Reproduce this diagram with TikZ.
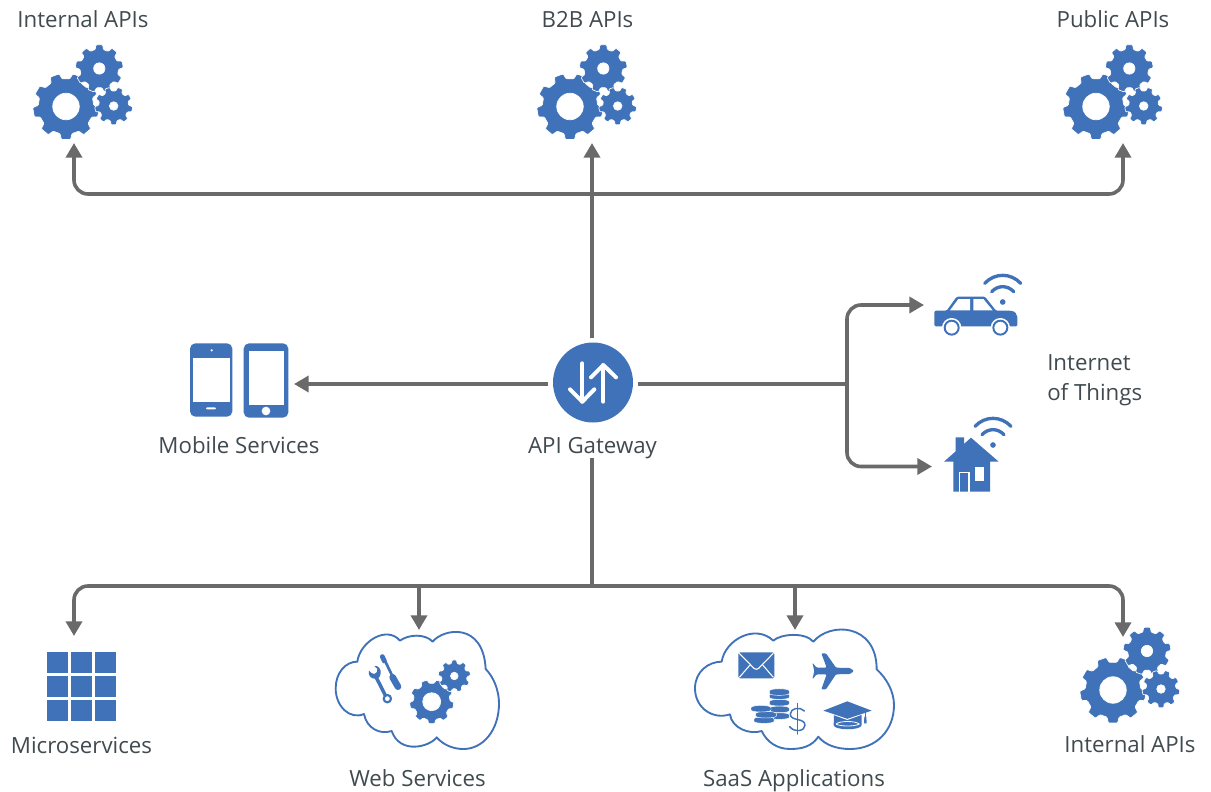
\documentclass[tikz,border=0pt]{standalone}
\usepackage{fontspec}
\setmainfont{Open Sans}
\usetikzlibrary{arrows.meta}
\definecolor{iconblue}{HTML}{3F72B8}
\definecolor{linegray}{HTML}{6A6A6A}
\definecolor{labelgray}{HTML}{404A4F}
\tikzset{
  conn/.style={draw=linegray,line width=2.7pt,rounded corners=10.5pt},
  tipped/.style={-{Triangle[length=11pt,width=12pt]}},
  tippedboth/.style={{Triangle[length=11pt,width=12pt]}-{Triangle[length=11pt,width=12pt]}},
  lbl/.style={text=labelgray,font=\fontsize{16.7pt}{22.5pt}\selectfont,inner sep=0pt,text height=12.5pt,text depth=3.5pt},
  lblblock/.style={text=labelgray,font=\fontsize{16.7pt}{22.5pt}\selectfont,inner sep=0pt},
  iconfill/.style={fill=iconblue,draw=none},
  cloudline/.style={draw=iconblue,line width=1.4pt,line join=round,fill=white},
  whiteline/.style={draw=white,line cap=round,line join=round},
  wifi/.style={draw=iconblue,line width=2.5pt,line cap=round},
  zoomscope/.style={x=.25pt,y=-.25pt}
}
\newcommand\gearshape[7]{%
  \pgfmathsetmacro\gp{360/#6}%
  \pgfmathtruncatemacro\gn{#6-1}%
  \path[iconfill,draw=white,line width=.5pt,even odd rule,rounded corners=.7pt,shift={(#1,#2)}]
    ({#7-.5*\gp}:#4)
    foreach \k in {0,...,\gn} {
      -- ({#7+\k*\gp-.31*\gp}:#4) -- ({#7+\k*\gp-.2*\gp}:#3)
      -- ({#7+\k*\gp+.2*\gp}:#3) -- ({#7+\k*\gp+.31*\gp}:#4)
    } -- cycle
    (0,0) circle (#5);
}
\newcommand\gearset[2]{%
  \begin{scope}[shift={(#1,#2)}]
    \gearshape{0}{0}{33.3}{27.8}{13.3}{9}{-70}
    \gearshape{33.3}{-38}{24}{19.3}{5.7}{9}{-90}
    \gearshape{47.7}{-.5}{19}{15}{4.3}{9}{-70}
  \end{scope}
}
\newcommand\wifisign[2]{%
  \begin{scope}[shift={(#1,#2)},zoomscope]
    \fill[iconfill] (0,0) circle (8.5);
    \draw[wifi] (-33,-31) .. controls (-14,-51) and (14,-51) .. (33,-31);
    \draw[wifi] (-54,-56) .. controls (-24,-88) and (24,-88) .. (54,-56);
  \end{scope}
}
\newcommand\coin[3]{% x y rx
  \fill[iconfill,draw=white,line width=.35pt] (#1-#3,#2) -- (#1-#3,#2+7)
    .. controls (#1-#3,#2+15) and (#1+#3,#2+15) .. (#1+#3,#2+7) -- (#1+#3,#2)
    .. controls (#1+#3,#2-9) and (#1-#3,#2-9) .. (#1-#3,#2) -- cycle;
}
\begin{document}
\begin{tikzpicture}[x=.75pt,y=-.75pt]
\useasboundingbox (0,0) rectangle (1211,792);

% labels
\node[lbl] (lblTopInternal) at (83,22) {Internal APIs};
\node[lbl] (lblB2B) at (587.5,22) {B2B APIs};
\node[lbl] (lblPublic) at (1113,22) {Public APIs};
\node[lbl] (lblMobile) at (239,447) {Mobile Services};
\node[lbl] (lblGateway) at (592.5,447) {API Gateway};
\node[lblblock,align=left,anchor=west] (lblIoT) at (1047,380) {Internet\\of Things};
\node[lbl] (lblMicro) at (81.5,747) {Microservices};
\node[lbl] (lblWeb) at (417.5,780) {Web Services};
\node[lbl] (lblSaas) at (794,780) {SaaS Applications};
\node[lbl] (lblBotInternal) at (1130,746) {Internal APIs};

% gateway
\node[circle,fill=iconblue,minimum size=60pt,inner sep=0pt,outer sep=3.4pt] (gateway) at (593,382.5) {};
\begin{scope}[shift={(530,320)},zoomscope]
  \draw[whiteline,line width=3pt] (157,130) -- (157,245);
  \draw[whiteline,line width=3pt] (120,208) -- (157,245) -- (193,208);
  \draw[whiteline,line width=3pt] (220,245) -- (220,135);
  \draw[whiteline,line width=3pt] (183,172) -- (220,135) -- (258,172);
\end{scope}

% anchors
\coordinate (tipTopInternal) at (74,143);
\coordinate (tipB2B) at (592,143);
\coordinate (tipPublic) at (1123,143);
\coordinate (tipMobile) at (294,384);
\coordinate (tipCar) at (924,305);
\coordinate (tipHouse) at (932,466.5);
\coordinate (tipMicro) at (74,636);
\coordinate (tipWeb) at (419,630);
\coordinate (tipSaas) at (795,630);
\coordinate (tipBotInternal) at (1123,637);
\coordinate (busTop) at (592,194);
\coordinate (busBottom) at (592,586);
\coordinate (iotJoint) at (847,384);

% connectors
\draw[conn,tippedboth] (tipTopInternal) |- (busTop) -| (tipPublic);
\draw[conn,tipped] (tipB2B |- gateway.north) -- (tipB2B);
\draw[conn,tipped] (gateway.west |- tipMobile) -- (tipMobile);
\draw[conn] (gateway.east |- iotJoint) -- (iotJoint);
\draw[conn,tipped] (iotJoint) |- (tipCar);
\draw[conn,tipped] (iotJoint) |- (tipHouse);
\draw[conn] (busBottom |- lblGateway.south) -- (busBottom);
\draw[conn,tippedboth] (tipMicro) |- (busBottom) -| (tipBotInternal);
\draw[conn,tipped,rounded corners=0pt] (tipWeb |- busBottom) -- (tipWeb);
\draw[conn,tipped,rounded corners=0pt] (tipSaas |- busBottom) -- (tipSaas);

% gears
\gearset{66}{106.5}
\gearset{570}{106.5}
\gearset{1096}{106.5}
\begin{scope}
  \gearshape{1113}{690}{33.3}{27.8}{13.3}{9}{-70}
  \gearshape{1147}{651}{24}{19.3}{5.7}{9}{-90}
  \gearshape{1161}{689}{19}{15}{4.3}{9}{-70}
\end{scope}

% microservices grid
\foreach \cx in {47,71,95} \foreach \cy in {652,676,700}
  \fill[iconfill] (\cx,\cy) rectangle ++(21,21);

% phones
\begin{scope}[shift={(170,330)},zoomscope]
  \fill[iconfill,rounded corners=4pt] (60,40) rectangle (187,260);
  \fill[white] (68,84) rectangle (180,216);
  \fill[white] (125,61) circle (3.5);
  \fill[white,rounded corners=.7pt] (108,232) rectangle (138,238);
  \fill[iconfill,rounded corners=4pt] (221,40) rectangle (355,263);
  \fill[white] (236,62) rectangle (341,225);
  \fill[white] (288,243) circle (13);
\end{scope}

% car
\begin{scope}[shift={(900,260)},zoomscope]
  \fill[iconfill,rounded corners=1pt] (103,152) -- (140,152) -- (170,110) -- (255,110) -- (288,152)
     -- (330,152) .. controls (345,154) and (352,162) .. (352,175) -- (352,199) -- (103,199) -- cycle;
  \fill[white] (150,151) -- (175,117) -- (210,117) -- (210,151) -- cycle;
  \fill[white] (220,117) -- (250,117) -- (278,151) -- (220,151) -- cycle;
  \fill[white] (155,203) circle (29);
  \fill[white] (301,203) circle (29);
  \fill[iconblue,even odd rule] (155,203) circle (24) (155,203) circle (18);
  \fill[iconblue,even odd rule] (301,203) circle (24) (301,203) circle (18);
\end{scope}
\wifisign{1002.7}{302}

% house
\begin{scope}[shift={(900,260)},zoomscope]
  \fill[iconfill] (132,605) -- (167,574) -- (167,532) -- (192,532) -- (192,552) -- (213,533) -- (296,605)
     -- (270,605) -- (270,695) -- (160,695) -- (160,605) -- cycle;
  \draw[white,line width=.8pt] (178,695) -- (178,637) -- (207,637) -- (207,695);
  \fill[white] (226,620) rectangle (253,663);
\end{scope}
\wifisign{993}{445}

% web services cloud
\begin{scope}[shift={(320,600)},zoomscope]
  \path[cloudline] (112,185) .. controls (120,125) and (200,75) .. (240,122)
    .. controls (265,103) and (315,100) .. (338,125)
    .. controls (370,85) and (490,65) .. (497,207)
    .. controls (520,230) and (537,270) .. (537,310)
    .. controls (537,390) and (490,447) .. (430,447)
    .. controls (400,447) and (370,435) .. (350,412)
    .. controls (330,440) and (240,465) .. (215,393)
    .. controls (180,405) and (140,385) .. (132,342)
    .. controls (90,360) and (47,320) .. (47,265)
    .. controls (47,220) and (75,185) .. (112,185) -- cycle;
  % screwdriver
  \draw[iconblue,line width=2pt] (190,172) -- (217,228);
  \draw[iconblue,line width=3.6pt,line cap=round] (187,170) -- (193,183);
  \draw[iconblue,line width=5pt,line cap=round] (218,232) -- (234,260);
  % wrench
  \draw[iconblue,line width=2.6pt] (165,225) -- (196,286);
  \draw[iconblue,line width=1.6pt,fill=white] (202,296) circle (11);
  \fill[iconblue] (147,212) .. controls (143,228) and (155,238) .. (168,236)
     -- (178,232) .. controls (186,218) and (182,202) .. (170,198)
     -- (163,199) -- (172,206) .. controls (174,214) and (170,220) .. (163,222)
     .. controls (157,222) and (152,218) .. (147,212) -- cycle;
\end{scope}
\gearshape{431.7}{701.7}{22.2}{18.4}{9}{9}{-70}
\gearshape{454.3}{676}{16.2}{12.8}{3.8}{9}{-90}

% saas cloud
\begin{scope}[shift={(680,610)},zoomscope]
  \path[cloudline] (125,155) .. controls (135,90) and (225,40) .. (280,92)
    .. controls (300,72) and (375,65) .. (400,95)
    .. controls (450,35) and (590,40) .. (590,178)
    .. controls (620,205) and (642,245) .. (642,285)
    .. controls (642,360) and (590,417) .. (510,417)
    .. controls (470,417) and (435,405) .. (415,380)
    .. controls (395,410) and (365,417) .. (330,417)
    .. controls (290,417) and (260,395) .. (245,363)
    .. controls (210,375) and (155,355) .. (150,313)
    .. controls (100,330) and (45,295) .. (45,235)
    .. controls (45,185) and (85,155) .. (125,155) -- cycle;
  % envelope
  \fill[iconfill,rounded corners=1.2pt] (175,127) rectangle (283,205);
  \draw[white,line width=.8pt,line join=round] (178,130) -- (222,175) .. controls (226,179) and (232,179) .. (236,175) -- (280,130);
  \draw[white,line width=.8pt] (178,202) -- (210,165) (280,202) -- (248,165);
  % plane
  \fill[iconfill,rounded corners=.8pt] (522,183) -- (510,174) -- (468,173) -- (438,130) -- (424,130) -- (440,173)
     -- (410,173) -- (397,158) -- (403,183) -- (397,208) -- (410,193) -- (440,193) -- (424,238) -- (438,238)
     -- (468,193) -- (510,192) -- cycle;
  % coins
  \coin{298}{315}{30}
  \coin{298}{295}{30}
  \coin{298}{275}{30}
  \coin{298}{255}{30}
  \coin{298}{243}{30}
  \coin{252}{327}{30}
  \coin{258}{311}{31}
  \coin{243}{293}{30}
  % dollar
  \draw[iconblue,line width=.8pt,line cap=round] (352,280) -- (352,372);
  \draw[iconblue,line width=1.1pt,line cap=round] (373,303) .. controls (360,288) and (331,295) .. (331,312)
     .. controls (331,335) and (375,322) .. (375,346) .. controls (375,364) and (342,368) .. (329,350);
  % cap
  \fill[iconfill] (462,312) -- (545,312) -- (545,345) .. controls (545,362) and (461,362) .. (461,345) -- cycle;
  \draw[white,line width=.6pt] (468,342) .. controls (480,332) and (525,332) .. (538,342) .. controls (525,350) and (480,350) .. (468,342);
  \draw[white,line width=.9pt] (452,310) -- (502,328) -- (552,310);
  \fill[iconfill] (430,302) -- (502,274) -- (575,302) -- (502,326) -- cycle;
  \draw[iconblue,line width=.7pt] (556,306) -- (556,325);
  \fill[iconblue] (553,320) -- (559,320) -- (560,340) -- (552,340) -- cycle;
\end{scope}
\end{tikzpicture}
\end{document}
